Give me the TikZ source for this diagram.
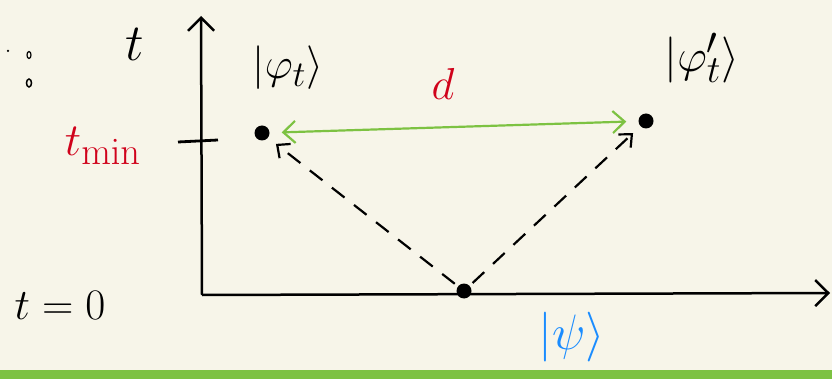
\documentclass[tikz,border=0pt]{standalone}
\usepackage{graphicx}
\usetikzlibrary{arrows.meta,shapes.geometric}
\definecolor{bg}{HTML}{F7F5E9}
\definecolor{lgreen}{HTML}{7DC242}
\definecolor{hred}{HTML}{D0021B}
\definecolor{hblue}{HTML}{1A8CFF}
\newcommand{\bigtext}[2]{\scalebox{#1}{\Huge #2}}
\tikzset{
  axis/.style={line width=2.5pt, black, -{Straight Barb[length=13pt,width=26pt,line width=2.5pt]}},
  statedot/.style={circle, fill=black, inner sep=0pt, minimum size=15pt},
  dasharr/.style={line width=2.2pt, dash pattern=on 16pt off 12pt, -{Straight Barb[length=10pt,width=18pt,line width=2.2pt]}, shorten >=10pt, shorten <=4pt},
  distarr/.style={line width=2.2pt, lgreen, {Straight Barb[length=12pt,width=22pt,line width=2.2pt]}-{Straight Barb[length=12pt,width=22pt,line width=2.2pt]}, shorten >=12pt, shorten <=12pt},
  lab/.style={inner sep=0pt}
}
\begin{document}
\begin{tikzpicture}[x=1pt,y=-1pt]
\fill[bg] (0,0) rectangle (832,379);
\useasboundingbox (0,0) rectangle (832,379);
\fill[lgreen] (0,370) rectangle (832,379);
% axes
\coordinate (O) at (202,295);
\coordinate (Ytop) at (201,16);
\coordinate (Xend) at (830,293);
\draw[axis] (O) -- (Ytop);
\draw[axis] (O) -- (Xend);
% tick
\coordinate (tk1) at (178,142);
\coordinate (tk2) at (218,140);
\draw[line width=2.8pt] (tk1) -- (tk2);
% states
\node[statedot] (L) at (262,133) {};
\node[statedot] (R) at (646,121) {};
\node[statedot] (B) at (464,291) {};
\draw[distarr] (L) -- (R);
\draw[dasharr] (B) -- (L);
\draw[dasharr] (B) -- (R);
% small marks
\node[circle, fill=black, inner sep=0pt, minimum size=2.5pt] (m1) at (8,51) {};
\node[ellipse, draw, line width=1.2pt, inner sep=0pt, minimum width=4pt, minimum height=7pt] (m2) at (29,55) {};
\node[ellipse, draw, line width=1.5pt, inner sep=0pt, minimum width=5pt, minimum height=8pt] (m3) at (29,83) {};
% labels
\node[lab] (tlab) at (135,44) {\bigtext{2.1}{$t$}};
\node[lab, text=hred] (tmin) at (103,146) {\bigtext{1.85}{$t_{\mathrm{min}}$}};
\node[lab] (t0) at (60,305) {\bigtext{1.75}{$t=0$}};
\node[lab] (phit) at (288,68) {\bigtext{1.75}{$|\varphi_t\rangle$}};
\node[lab] (phipt) at (702,58) {\bigtext{1.85}{$|\varphi'_t\rangle$}};
\node[lab, text=hred] (d) at (443,84) {\bigtext{1.8}{$d$}};
\node[lab, text=hblue] (psi) at (572,337) {\bigtext{2.0}{$|\psi\rangle$}};
\end{tikzpicture}
\end{document}
